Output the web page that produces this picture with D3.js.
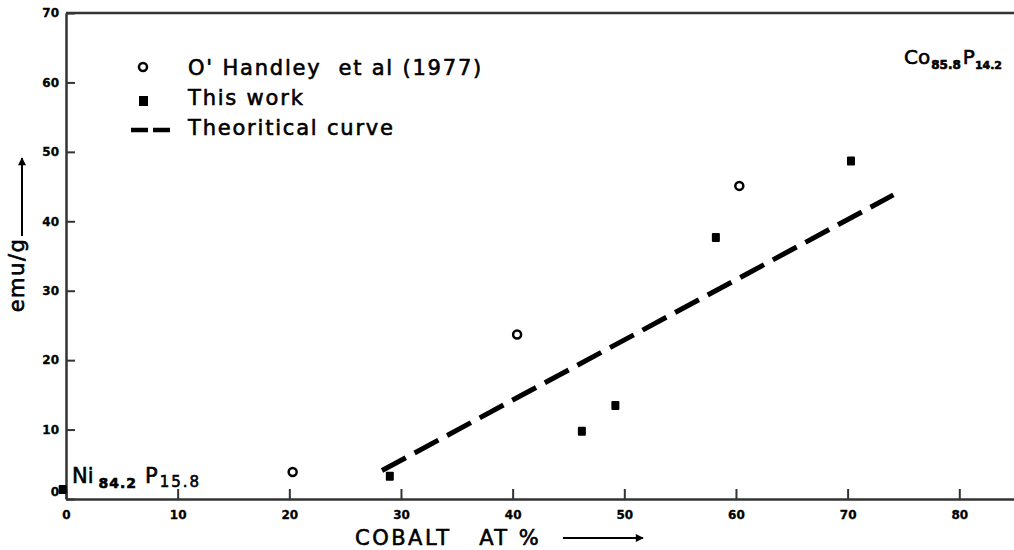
<!DOCTYPE html>
<html>
<head>
<meta charset="utf-8">
<script src="https://cdn.jsdelivr.net/npm/d3@7"></script>
<style>
  body { margin: 0; background: #fff; }
  svg { display: block; }
  text { font-family: "DejaVu Sans", sans-serif; fill: #000; }
  .tick text { font-weight: bold; font-size: 12px; }
  .ink { stroke: #000; stroke-width: 0.6px; }
</style>
</head>
<body>
<div class="graph"></div>
<script>
// data
let handleyX = [20.3, 40.4, 60.3];
let handleyY = [3.9, 23.7, 45.1];
let workX = [-0.3, 29.0, 46.2, 49.2, 58.2, 70.3];
let workY = [1.3, 3.2, 9.7, 13.4, 37.6, 48.6];
let curveX = [28.3, 74.1];
let curveY = [4.1, 43.8];
let xTicks = [0, 10, 20, 30, 40, 50, 60, 70, 80];
let yTicks = [0, 10, 20, 30, 40, 50, 60, 70];
let legendLabels = ["O' Handley  et al (1977)", "This work", "Theoritical curve"];

let w = 1014;
let h = 550;

let svg = d3.select('.graph')
    .append('svg')
    .attr('width', w)
    .attr('height', h);

let xScale = d3.scaleLinear().domain([0, 84.9]).range([66, 1014]);
let yScale = d3.scaleLinear().domain([0, 70]).range([499, 13]);

// axes, ticks point inwards
let xAxis = d3.axisBottom(xScale).tickValues(xTicks).tickSizeInner(-10).tickSizeOuter(0).tickPadding(11);
let yAxis = d3.axisLeft(yScale).tickValues(yTicks).tickSizeInner(-9).tickSizeOuter(0).tickPadding(7);

let gx = svg.append('g')
    .attr('transform', 'translate(0,' + yScale(0) + ')')
    .call(xAxis);
let gy = svg.append('g')
    .attr('transform', 'translate(' + xScale(0) + ',0)')
    .call(yAxis);

[gx, gy].forEach(g => {
    g.select('.domain').attr('stroke', '#333').attr('stroke-width', 2.5);
    g.selectAll('.tick line').attr('stroke', '#333').attr('stroke-width', 2);
    g.selectAll('.tick text').style('fill', '#000').attr('class', 'ink').style('stroke-width', '0.3px');
});
gy.selectAll('.tick').filter(d => d === 0).select('text').attr('dy', '-0.3em');

// top frame line
svg.append('line')
    .attr('x1', xScale(0)).attr('x2', xScale(84.9))
    .attr('y1', yScale(70)).attr('y2', yScale(70))
    .attr('stroke', '#333').attr('stroke-width', 2.5);

// theoretical curve
svg.append('path')
    .datum(curveX.map((d, i) => [d, curveY[i]]))
    .attr('d', d3.line().x(d => xScale(d[0])).y(d => yScale(d[1])))
    .attr('fill', 'none')
    .attr('stroke', '#000')
    .attr('stroke-width', 5)
    .attr('stroke-dasharray', '27,10');

// O'Handley points
svg.selectAll('circle.handley')
    .data(handleyX)
    .enter()
    .append('circle')
    .attr('class', 'handley')
    .attr('cx', d => xScale(d))
    .attr('cy', (d, i) => yScale(handleyY[i]))
    .attr('r', 4)
    .attr('fill', '#fff')
    .attr('stroke', '#000')
    .attr('stroke-width', 2.5);

// this work points
svg.selectAll('rect.work')
    .data(workX)
    .enter()
    .append('rect')
    .attr('class', 'work')
    .attr('x', d => xScale(d) - 4)
    .attr('y', (d, i) => yScale(workY[i]) - 5)
    .attr('width', 8)
    .attr('height', 9)
    .attr('rx', 1)
    .attr('fill', '#000');

// legend
let legend = svg.append('g');
legend.append('circle')
    .attr('cx', 143).attr('cy', 67).attr('r', 4)
    .attr('fill', '#fff').attr('stroke', '#000').attr('stroke-width', 2.5);
legend.append('rect')
    .attr('x', 139).attr('y', 96).attr('width', 9).attr('height', 10)
    .attr('fill', '#000');
legend.append('line')
    .attr('x1', 131).attr('x2', 170).attr('y1', 130).attr('y2', 130)
    .attr('stroke', '#000').attr('stroke-width', 4.5)
    .attr('stroke-dasharray', '17,5');
legend.selectAll('text.leg')
    .data(legendLabels)
    .enter()
    .append('text')
    .attr('class', 'leg ink')
    .attr('x', 188)
    .attr('y', (d, i) => 75 + i * 30)
    .style('font-size', '21px')
    .style('letter-spacing', '1.8px')
    .style('white-space', 'pre')
    .text(d => d);

// composition labels
let co = svg.append('text').attr('class', 'ink').attr('x', 904).attr('y', 64).style('font-size', '20px');
co.append('tspan').text('Co');
co.append('tspan').attr('dy', 5).attr('dx', 1).style('font-size', '12px').style('font-weight', 'bold').text('85.8');
co.append('tspan').attr('dy', -5).attr('dx', 2).text('P');
co.append('tspan').attr('dy', 5).style('font-size', '11px').style('font-weight', 'bold').text('14.2');

let ni = svg.append('text').attr('class', 'ink').attr('x', 72).attr('y', 483).style('font-size', '21px');
ni.append('tspan').text('Ni');
ni.append('tspan').attr('dx', 5).attr('dy', 5).style('font-size', '14px').style('font-weight', 'bold').style('letter-spacing', '1px').text('84.2');
ni.append('tspan').attr('dx', 8).attr('dy', -5).text('P');
ni.append('tspan').attr('dx', 2).attr('dy', 4).style('font-size', '15px').style('letter-spacing', '2px').text('15.8');

// axis titles with arrows
svg.append('defs').append('marker')
    .attr('id', 'arrow')
    .attr('viewBox', '0 0 10 10')
    .attr('refX', 9).attr('refY', 5)
    .attr('markerWidth', 12).attr('markerHeight', 8)
    .attr('markerUnits', 'userSpaceOnUse')
    .attr('orient', 'auto')
    .append('path')
    .attr('d', 'M0,0 L10,5 L0,10 Z')
    .attr('fill', '#000');

svg.append('text')
    .attr('class', 'ink')
    .attr('transform', 'translate(24,275) rotate(-90)')
    .attr('text-anchor', 'middle')
    .style('font-size', '21px')
    .style('letter-spacing', '1.5px')
    .text('emu/g');
svg.append('line')
    .attr('x1', 22).attr('x2', 22).attr('y1', 236).attr('y2', 158)
    .attr('stroke', '#000').attr('stroke-width', 2)
    .attr('marker-end', 'url(#arrow)');

svg.append('text')
    .attr('class', 'ink')
    .attr('x', 355).attr('y', 545)
    .style('font-size', '21px')
    .style('letter-spacing', '2.5px')
    .style('white-space', 'pre')
    .text('COBALT   AT %');
svg.append('line')
    .attr('x1', 563).attr('x2', 643).attr('y1', 538).attr('y2', 538)
    .attr('stroke', '#000').attr('stroke-width', 2)
    .attr('marker-end', 'url(#arrow)');
</script>
</body>
</html>
